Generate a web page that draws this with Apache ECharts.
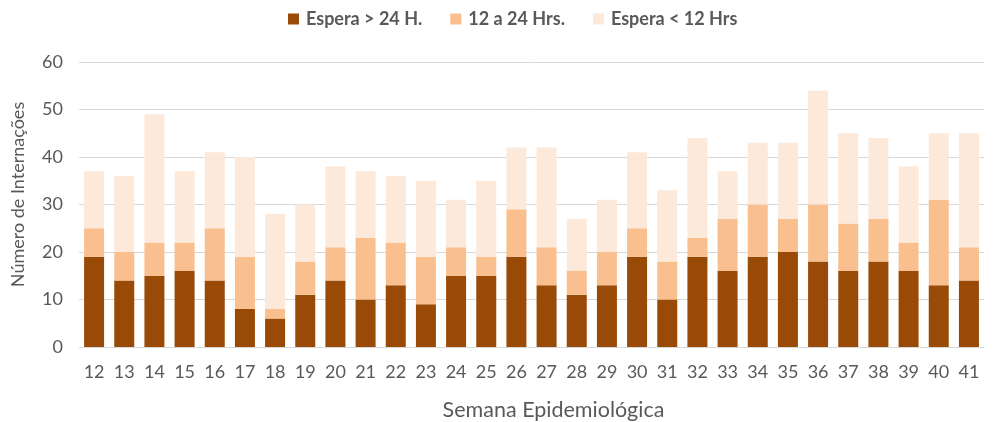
<!DOCTYPE html>
<html><head><meta charset="utf-8">
<script src="https://cdn.jsdelivr.net/npm/echarts@6/dist/echarts.min.js"></script>
<style>html,body{margin:0;padding:0;background:#fff}#c{width:1004px;height:422px}</style>
</head><body><div id="c"></div>
<script>
const categories = ['12','13','14','15','16','17','18','19','20','21','22','23','24','25','26','27','28','29','30','31','32','33','34','35','36','37','38','39','40','41'];
const over24 = [19,14,15,16,14,8,6,11,14,10,13,9,15,15,19,13,11,13,19,10,19,16,19,20,18,16,18,16,13,14];
const from12to24 = [6,6,7,6,11,11,2,7,7,13,9,10,6,4,10,8,5,7,6,8,4,11,11,7,12,10,9,6,18,7];
const under12 = [12,16,27,15,16,21,20,12,17,14,14,16,10,16,13,21,11,11,16,15,21,10,13,16,24,19,17,16,14,24];
const seriesNames = ['Espera > 24 H.','12 a 24 Hrs.','Espera < 12 Hrs'];
const colors = ['#9A4A07','#F9BF8F','#FDE9DA'];
const font = 'Lato, "Noto Sans", sans-serif';
const chart = echarts.init(document.getElementById('c'));
const dataSets = [over24, from12to24, under12];
chart.setOption({
  animation:false,
  textStyle:{fontFamily:font},
  legend:{top:5,left:283,itemWidth:11,itemHeight:11,itemGap:28,icon:'rect',
    textStyle:{fontFamily:font,fontSize:18,fontWeight:'bold',color:'#595959',padding:[0,0,0,2]},data:seriesNames},
  grid:{left:79,right:20,top:62,bottom:75,containLabel:false,outerBoundsMode:'none'},
  xAxis:{type:'category',data:categories,
    axisLine:{lineStyle:{color:'#d9d9d9'}},axisTick:{show:false},
    axisLabel:{color:'#595959',fontSize:18,margin:16,fontFamily:font},
    name:'Semana Epidemiológica',nameLocation:'middle',nameGap:52,
    nameTextStyle:{color:'#595959',fontSize:21.5,fontFamily:font,padding:[0,0,0,44]}},
  yAxis:{type:'value',min:0,max:60,interval:10,
    splitLine:{lineStyle:{color:'#d9d9d9'}},axisLine:{show:false},axisTick:{show:false},
    axisLabel:{color:'#595959',fontSize:18,margin:16,fontFamily:font},
    name:'Número de Internações',nameLocation:'middle',nameGap:52,
    nameTextStyle:{color:'#595959',fontSize:18,fontFamily:font,padding:[0,0,0,20]}},
  series:dataSets.map((d,i)=>({name:seriesNames[i],type:'bar',stack:'t',data:d,barWidth:20,
    itemStyle:{color:colors[i]}}))
});
</script></body></html>
